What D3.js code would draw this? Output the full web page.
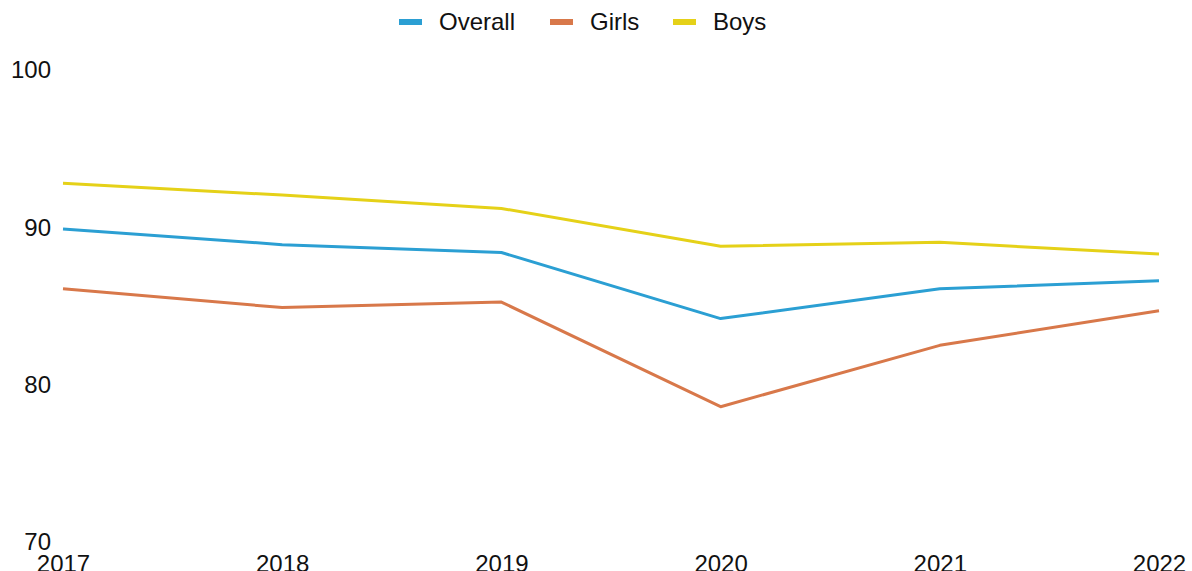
<!DOCTYPE html>
<html>
<head>
<meta charset="utf-8">
<script src="https://cdn.jsdelivr.net/npm/d3@7"></script>
<style>
  body { margin: 0; background: #fff; }
  svg { display: block; font-family: "Liberation Sans", Arial, sans-serif; }
</style>
</head>
<body>
<div id="container"></div>
<script>
const width = 1192, height = 571;

// values
const years = ['2017', '2018', '2019', '2020', '2021', '2022'];
const overall = [89.9, 88.9, 88.4, 84.2, 86.1, 86.6];
const girls = [86.1, 84.9, 85.25, 78.6, 82.5, 84.7];
const boys = [92.8, 92.05, 91.2, 88.8, 89.05, 88.3];
const yTicks = [70, 80, 90, 100];

const seriesNames = ['Overall', 'Girls', 'Boys'];
const colors = ['#2b9fd3', '#d8784a', '#e5d118'];
const series = [overall, girls, boys];

const svg = d3.select('#container').append('svg')
    .attr('width', width)
    .attr('height', height);

const x = d3.scalePoint(years, [63, 1159]);
const y = d3.scaleLinear([70, 100], [542, 70]);

// y axis, labels only
const yAxis = svg.append('g')
    .attr('transform', 'translate(51,0)')
    .call(d3.axisLeft(y).tickValues(yTicks).tickSize(0).tickPadding(0));
yAxis.select('.domain').remove();
yAxis.selectAll('text')
    .attr('font-size', 24)
    .attr('font-family', '"Liberation Sans", Arial, sans-serif')
    .attr('fill', '#111');

// x axis, labels only
const xAxis = svg.append('g')
    .attr('transform', 'translate(0,542)')
    .call(d3.axisBottom(x).tickSize(0).tickPadding(13));
xAxis.select('.domain').remove();
xAxis.selectAll('text')
    .attr('font-size', 24)
    .attr('font-family', '"Liberation Sans", Arial, sans-serif')
    .attr('fill', '#111');

const line = d3.line()
    .x((d, i) => x(years[i]))
    .y(d => y(d));

svg.append('g').selectAll('path')
    .data(series)
    .join('path')
        .attr('d', line)
        .attr('fill', 'none')
        .attr('stroke', (d, i) => colors[i])
        .attr('stroke-width', 3)
        .attr('stroke-linejoin', 'round');

// legend
const legendX = [399, 550, 673];
const legend = svg.append('g').selectAll('g')
    .data(seriesNames)
    .join('g')
        .attr('transform', (d, i) => `translate(${legendX[i]},22)`);

legend.append('rect')
    .attr('x', 0)
    .attr('y', -3)
    .attr('width', 23)
    .attr('height', 6)
    .attr('fill', (d, i) => colors[i]);

legend.append('text')
    .attr('x', 40)
    .attr('dy', '0.35em')
    .attr('font-size', 24)
    .attr('fill', '#111')
    .text(d => d);
</script>
</body>
</html>
